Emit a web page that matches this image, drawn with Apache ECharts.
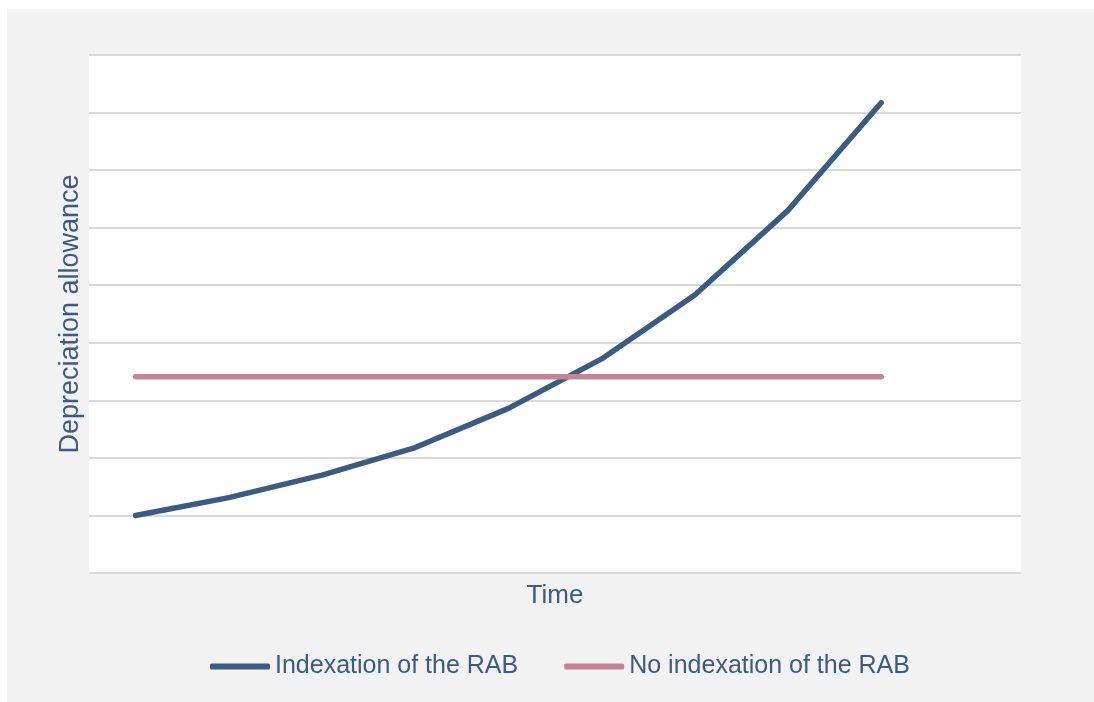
<!DOCTYPE html>
<html>
<head>
<meta charset="utf-8">
<script src="https://cdn.jsdelivr.net/npm/echarts@6/dist/echarts.min.js"></script>
<style>
  html, body { margin: 0; padding: 0; background: #ffffff; }
  #chart { position: absolute; left: 7px; top: 9px; width: 1087px; height: 693px; }
</style>
</head>
<body>
<div id="chart"></div>
<script>
// time periods (no labels shown on the axis)
const periods = ['t1', 't2', 't3', 't4', 't5', 't6', 't7', 't8', 't9', 't10']
// depreciation allowance (arbitrary units)
const indexed = [1.0, 1.31, 1.70, 2.18, 2.86, 3.72, 4.83, 6.30, 8.17, null]
const notIndexed = [3.41, 3.41, 3.41, 3.41, 3.41, 3.41, 3.41, 3.41, 3.41, null]

const textColor = '#3e5a83'
const font = 'Liberation Sans, Arial, sans-serif'

const chart = echarts.init(document.getElementById('chart'))

chart.setOption({
  backgroundColor: '#f2f2f2',
  animation: false,
  textStyle: { fontFamily: font },
  grid: {
    left: 82,
    right: 73,
    top: 46,
    bottom: 129,
    show: true,
    backgroundColor: '#ffffff',
    borderWidth: 0,
  },
  legend: {
    top: 640,
    left: 198,
    icon: 'roundRect',
    itemWidth: 60,
    itemHeight: 6,
    itemGap: 46,
    textStyle: { color: textColor, fontSize: 25, fontFamily: font },
    data: ['Indexation of the RAB', 'No indexation of the RAB'],
  },
  xAxis: {
    type: 'category',
    data: periods,
    boundaryGap: true,
    name: 'Time',
    nameLocation: 'middle',
    nameGap: 10,
    nameTextStyle: { color: textColor, fontSize: 26 },
    axisLine: { show: false },
    axisTick: { show: false },
    axisLabel: { show: false },
  },
  yAxis: {
    type: 'value',
    min: 0,
    max: 9,
    interval: 1,
    name: 'Depreciation allowance',
    nameLocation: 'middle',
    nameGap: 5,
    nameTextStyle: { color: textColor, fontSize: 27 },
    axisLine: { show: false },
    axisTick: { show: false },
    axisLabel: { show: false },
    splitLine: { lineStyle: { color: '#d9d9d9', width: 2 } },
  },
  series: [
    {
      name: 'Indexation of the RAB',
      type: 'line',
      data: indexed,
      symbol: 'none',
      color: '#3d5a80',
      lineStyle: { width: 5.5, cap: 'round', join: 'round' },
    },
    {
      name: 'No indexation of the RAB',
      type: 'line',
      data: notIndexed,
      symbol: 'none',
      color: '#c38596',
      lineStyle: { width: 5.5, cap: 'round', join: 'round' },
    },
  ],
})
</script>
</body>
</html>
